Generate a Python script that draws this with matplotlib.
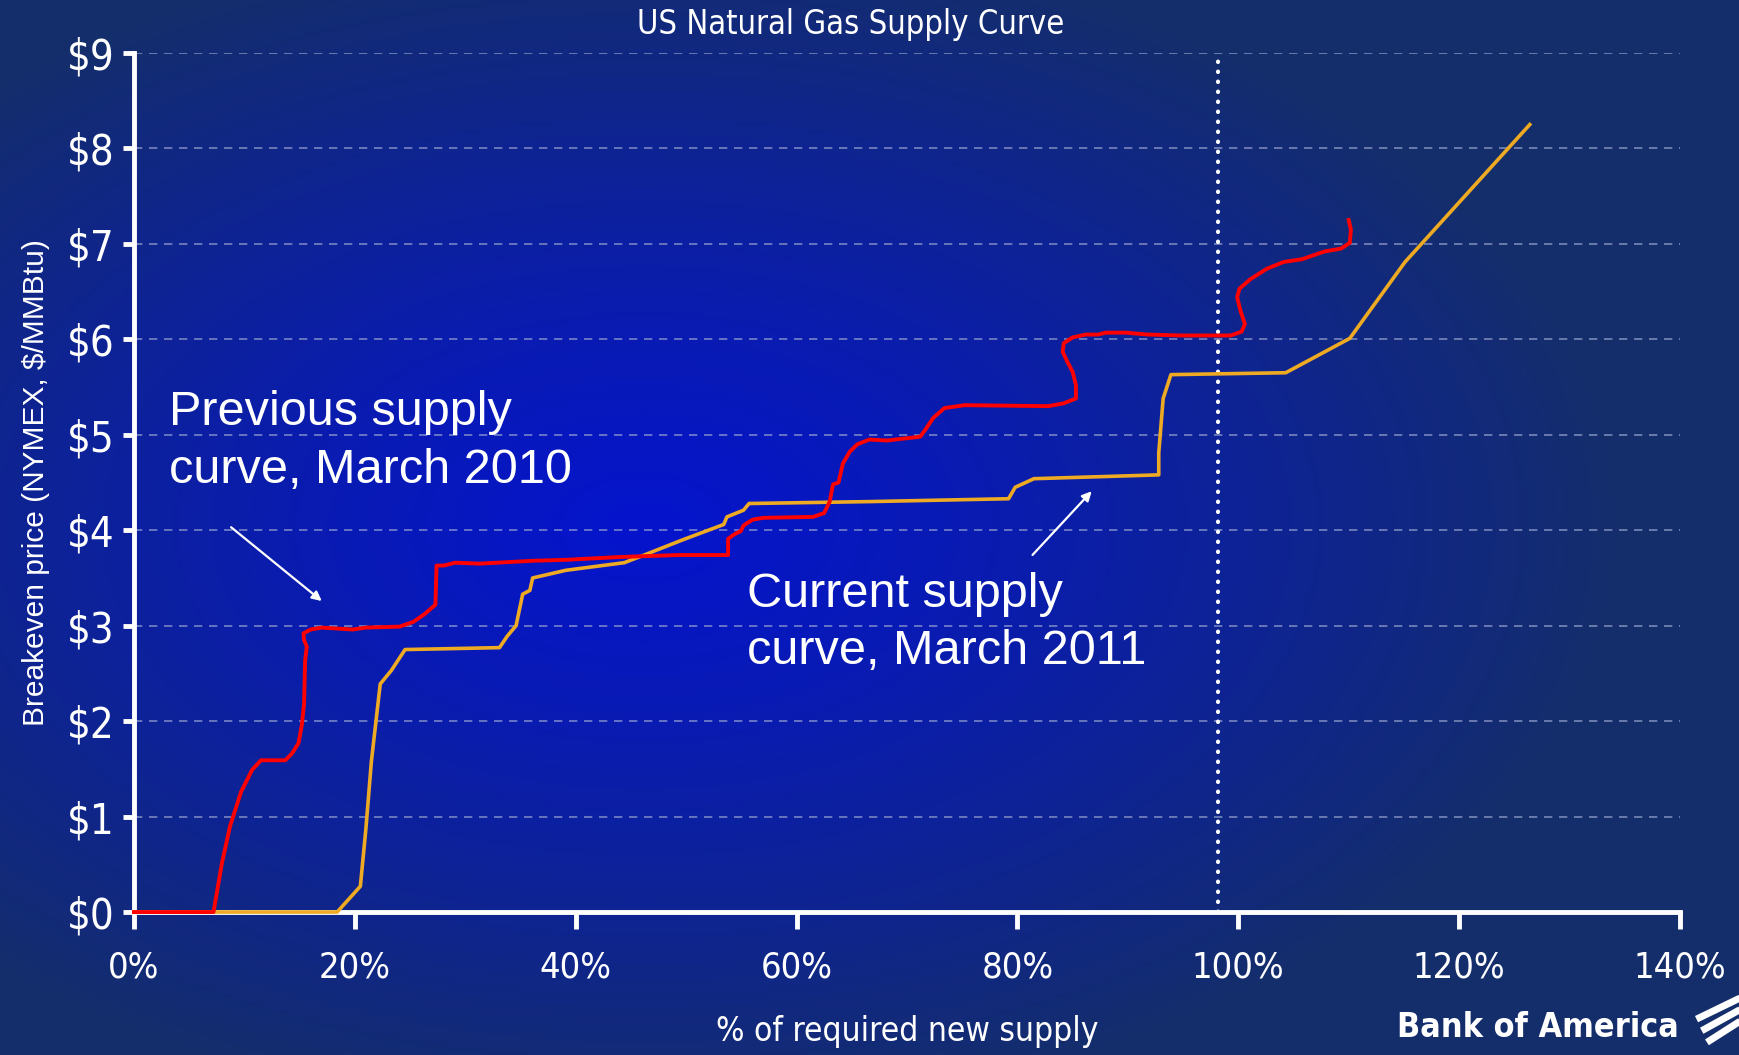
import matplotlib
matplotlib.use('Agg')
import matplotlib.pyplot as plt
from matplotlib import font_manager
import numpy as np

# previous supply curve, March 2010 (% of required new supply, $/MMBtu)
prev_x = [0, 7.2, 7.96, 8.7, 9.7, 10.7, 11.5, 13.7, 14.3, 14.9, 15.2, 15.4, 15.5, 15.65,
          15.4, 15.35, 16.0, 17.0, 19.8, 21.0, 24.05, 25.3, 26.3, 27.3, 27.4, 28.05, 29.1,
          31.3, 36.1, 39.1, 44.1, 49.2, 53.8, 53.8, 54.4, 54.95, 55.2, 56.0, 57.0, 61.5,
          62.5, 63.0, 63.3, 63.8, 64.2, 64.8, 65.5, 66.6, 68.2, 69.7, 71.2, 71.7, 72.4,
          73.4, 75.2, 82.8, 84.2, 85.3, 85.3, 85.0, 84.5, 84.1, 84.2, 85.0, 86.2, 87.3,
          88.0, 89.8, 91.8, 94.8, 99.3, 100.3, 100.6, 100.2, 99.9, 100.1, 101.1, 102.6,
          104.1, 105.8, 107.8, 109.3, 110.1, 110.2, 110.0]
prev_y = [0, 0, 0.51, 0.9, 1.26, 1.49, 1.59, 1.59, 1.66, 1.77, 1.96, 2.18, 2.64, 2.78,
          2.85, 2.92, 2.96, 2.98, 2.96, 2.98, 2.99, 3.04, 3.12, 3.22, 3.63, 3.63, 3.66,
          3.65, 3.68, 3.69, 3.72, 3.74, 3.74, 3.91, 3.96, 3.99, 4.05, 4.11, 4.13, 4.14,
          4.18, 4.3, 4.48, 4.5, 4.7, 4.82, 4.9, 4.95, 4.94, 4.96, 4.98, 5.06, 5.18,
          5.28, 5.31, 5.30, 5.33, 5.38, 5.52, 5.66, 5.77, 5.87, 5.96, 6.02, 6.05, 6.05,
          6.07, 6.07, 6.05, 6.04, 6.04, 6.08, 6.16, 6.30, 6.44, 6.53, 6.63, 6.74,
          6.81, 6.84, 6.92, 6.95, 7.01, 7.15, 7.25]

# current supply curve, March 2011
curr_x = [0, 18.4, 20.5, 21.0, 21.5, 22.3, 23.3, 24.55, 33.1, 33.8, 34.6, 35.2, 35.85,
          36.1, 39.1, 44.4, 46.2, 49.7, 53.4, 53.7, 55.2, 55.7, 66.6, 79.2, 79.8, 81.5,
          92.8, 92.8, 93.2, 93.9, 104.3, 110.1, 115.1, 126.4]
curr_y = [0, 0, 0.27, 0.87, 1.58, 2.39, 2.53, 2.75, 2.77, 2.89, 3.0, 3.33, 3.37,
          3.5, 3.58, 3.66, 3.74, 3.9, 4.06, 4.14, 4.21, 4.28, 4.30, 4.33, 4.45, 4.54,
          4.58, 4.81, 5.38, 5.63, 5.65, 6.01, 6.81, 8.25]

x_ticks = [0, 20, 40, 60, 80, 100, 120, 140]
x_tick_labels = ['0%', '20%', '40%', '60%', '80%', '100%', '120%', '140%']
y_ticks = [0, 1, 2, 3, 4, 5, 6, 7, 8, 9]
y_tick_labels = ['$0', '$1', '$2', '$3', '$4', '$5', '$6', '$7', '$8', '$9']
required_line = 98.2

plain = ['Liberation Sans', 'DejaVu Sans']

# condensed face if the system has one, else Arial-like
cond_path = font_manager.findfont(
    font_manager.FontProperties(family='DejaVu Sans', stretch='condensed'))
if 'ondensed' in cond_path:
    narrow = dict(family='DejaVu Sans', fontstretch='condensed')
    nscale = 1.0
else:
    narrow = dict(family=plain)
    nscale = 0.92

fig = plt.figure(figsize=(17.4, 10.55), dpi=100)

# background: blue glow fading to dark navy
bg = fig.add_axes([0, 0, 1, 1])
gx, gy = np.meshgrid(np.linspace(0, 1, 400), np.linspace(0, 1, 260))
d = np.sqrt(((gx - 0.37) / 0.75) ** 2 + ((gy - 0.50) / 0.75) ** 2)
t = np.clip(d / 0.75, 0, 1) ** 1.2
inner = np.array([0.02, 0.08, 0.80])
outer = np.array([0.08, 0.18, 0.42])
img = inner[None, None, :] * (1 - t[..., None]) + outer[None, None, :] * t[..., None]
bg.imshow(img, extent=[0, 1, 0, 1], aspect='auto', origin='lower')
bg.axis('off')

ax = fig.add_axes([0.077, 0.1355, 0.8885, 0.8143])
ax.patch.set_alpha(0)

for v in y_ticks[1:]:
    ax.axhline(v, color='#9aa6d0', lw=1.2, ls=(0, (5, 4)), alpha=0.75, zorder=1)
ax.plot([required_line, required_line], [0, 9], color='white', lw=3,
        ls=(0, (0.1, 2.3)), dash_capstyle='round', zorder=2)

ax.plot(curr_x, curr_y, color='#eeaa22', lw=2.6, zorder=6, clip_on=False)
ax.plot(prev_x, prev_y, color='#ff0000', lw=2.8, zorder=7, clip_on=False)

ax.set_xlim(0, 140)
ax.set_ylim(0, 9)
for s in ['top', 'right']:
    ax.spines[s].set_visible(False)
for s in ['left', 'bottom']:
    ax.spines[s].set_color('white')
    ax.spines[s].set_linewidth(3.5)
    ax.spines[s].set_zorder(5)

ax.set_xticks(x_ticks)
ax.set_xticklabels(x_tick_labels, fontsize=26 * nscale, color='white', **narrow)
ax.set_yticks(y_ticks)
ax.set_yticklabels(y_tick_labels, fontsize=30 * nscale, color='white', **narrow)
ax.tick_params(axis='x', length=12, width=3.5, color='white', pad=16)
ax.tick_params(axis='y', length=8, width=3.5, color='white', pad=6)

ax.set_xlabel('% of required new supply', fontsize=24 * nscale,
              color='white', labelpad=22, **narrow)
ax.set_ylabel('Breakeven price (NYMEX, $/MMBtu)', family=plain, fontsize=21.5,
              color='white', labelpad=12)

fig.text(0.489, 0.977, 'US Natural Gas Supply Curve', fontsize=23.5 * nscale,
         color='white', ha='center', va='center', **narrow)

ax.text(3.2, 4.93, 'Previous supply\ncurve, March 2010', family=plain, fontsize=35,
        color='white', ha='left', va='center', linespacing=1.36)
ax.text(55.5, 3.03, 'Current supply\ncurve, March 2011', family=plain, fontsize=35,
        color='white', ha='left', va='center', linespacing=1.36)
ax.annotate('', xy=(17.2, 3.24), xytext=(8.6, 4.05),
            arrowprops=dict(arrowstyle='-|>', color='white', lw=1.6, mutation_scale=14))
ax.annotate('', xy=(86.9, 4.43), xytext=(81.2, 3.72),
            arrowprops=dict(arrowstyle='-|>', color='white', lw=1.6, mutation_scale=14))

# logo
fig.text(0.803, 0.010, 'Bank of America', fontsize=24.5 * nscale,
         fontweight='bold', color='white', ha='left', va='bottom', **narrow)
for k in range(3):
    y0 = 0.034 - k * 0.011
    fig.add_artist(plt.Line2D([0.975 + k * 0.003, 1.0], [y0, y0 + 0.020],
                              transform=fig.transFigure, color='white', lw=5,
                              solid_capstyle='butt'))

fig.savefig('out.png', dpi=100)
